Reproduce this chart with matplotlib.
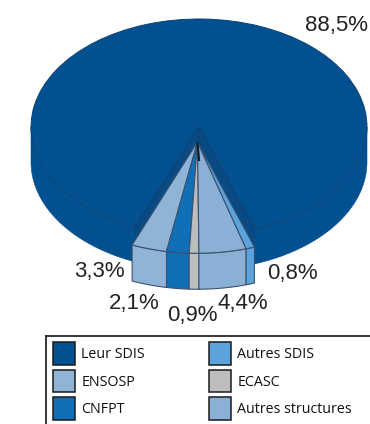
import numpy as np
import matplotlib
matplotlib.use("Agg")
import matplotlib.pyplot as plt
from matplotlib.lines import Line2D
from matplotlib.patches import Patch, Polygon

main_label = "Leur SDIS"
main_value = 88.5
main_color = "#02508f"
slice_labels = ["ENSOSP", "CNFPT", "ECASC", "Autres structures", "Autres SDIS"]
slice_values = [3.3, 2.1, 0.9, 4.4, 0.8]
slice_colors = ["#8fb4d8", "#0f6fb7", "#bdbdbd", "#8ab0d6", "#5ba3dc"]
value_texts = ["3,3%", "2,1%", "0,9%", "4,4%", "0,8%"]
legend_order = ["Leur SDIS", "ENSOSP", "CNFPT", "Autres SDIS", "ECASC", "Autres structures"]

W, H = 370, 424
RX, RY = 168, 108
fig = plt.figure(figsize=(W / 100, H / 100), dpi=100)
ax = fig.add_axes([0, 0, 1, 1])

def cx(px): return px / RX
def cy(py): return (H - py) / RY
D_MAIN = 35 / RY
D_SMALL = 36 / RY
C_MAIN = (cx(199), cy(127))
C_SMALL = (cx(197.5), cy(142))
R_SMALL = 1.03
START = 247.8
EDGE = "#3b5270"
DARK = "#0b4275"

def arc(center, a0, a1, r=1.0, n=80):
    t = np.radians(np.linspace(a0, a1, n))
    return center[0] + r * np.cos(t), center[1] + r * np.sin(t)

def wall(center, a0, a1, color, z, d, r=1.0, ec=EDGE, lw=0.8):
    x, y = arc(center, a0, a1, r)
    pts = np.r_[np.c_[x, y], np.c_[x[::-1], y[::-1] - d]]
    ax.add_patch(Polygon(pts, closed=True, fc=color, ec=ec, lw=lw, zorder=z))

small_total = sum(slice_values)
main_start = START + small_total * 3.6

# main slice: outer wall, top, inner cut walls
wall(C_MAIN, 180, START, main_color, 1, D_MAIN, ec=main_color, lw=0.4)
wall(C_MAIN, main_start, 360, main_color, 1, D_MAIN, ec=main_color, lw=0.4)
main_wedges, _ = ax.pie([main_value, 100 - main_value], colors=[main_color, "none"], center=C_MAIN, radius=1,
                        startangle=main_start, counterclock=True,
                        wedgeprops=dict(linewidth=0.7, edgecolor=DARK), frame=True)
main_wedges[0].set_zorder(1.5)
main_wedges[1].set_visible(False)
for a in (START, main_start):
    x, y = arc(C_MAIN, a, a, n=2)
    pts = [(C_MAIN[0], C_MAIN[1]), (x[0], y[0]), (x[0], y[0] - D_MAIN), (C_MAIN[0], C_MAIN[1] - D_MAIN)]
    ax.add_patch(Polygon(pts, closed=True, fc="#0a4a82", ec=DARK, lw=0.7, zorder=2))

# exploded group: front walls then tops
a = START
for v, c in zip(slice_values, slice_colors):
    wall(C_SMALL, a, a + v * 3.6, c, 3, D_SMALL, r=R_SMALL)
    a += v * 3.6
wedges, _ = ax.pie(slice_values + [100 - small_total], colors=slice_colors + ["none"],
                   center=C_SMALL, radius=R_SMALL, startangle=START, counterclock=True,
                   wedgeprops=dict(linewidth=0.8, edgecolor=EDGE), frame=True)
wedges[-1].set_visible(False)
for w in wedges:
    w.set_zorder(4)
ax.plot([cx(197.5), cx(199)], [cy(143), cy(160)], color="#10202f", lw=1.6, zorder=5)

ax.set_aspect("auto")
ax.set_xlim(0, W / RX)
ax.set_ylim(0, H / RY)
ax.axis("off")

# value labels
font = "Liberation Sans"
ax.text(cx(336), cy(25), f"{main_value:.1f}%".replace(".", ","), ha="center", va="center",
        fontsize=16, family=font, color="#222222", zorder=6)
label_pos = [(99, 271), (134, 304), (192, 315), (243, 303), (292, 274)]
for s, (px, py) in zip(value_texts, label_pos):
    ax.text(cx(px), cy(py), s, ha="center", va="center", fontsize=16, family=font,
            color="#222222", zorder=6)

# legend: only a top and a left rule frame it in the reference
color_of = dict(zip(slice_labels, slice_colors), **{main_label: main_color})
handles = [Patch(fc=color_of[n], ec="#1a1a1a", lw=1.1, label=n) for n in legend_order]
leg = fig.legend(handles=handles, ncols=2, loc="upper left",
                 bbox_to_anchor=(53 / W, 1 - 342 / H), bbox_transform=fig.transFigure,
                 frameon=False,
                 prop=dict(family="Open Sans", size=10.3),
                 handlelength=1.55, handleheight=2.05, handletextpad=0.42,
                 columnspacing=4.5, labelspacing=0.36, borderpad=0, borderaxespad=0)
for t in leg.get_texts():
    t.set_color("#111111")
fx, fy = 46 / W, 1 - 336 / H
fig.add_artist(Line2D([fx, 1], [fy, fy], color="black", lw=1.1, transform=fig.transFigure))
fig.add_artist(Line2D([fx, fx], [fy, 0], color="black", lw=1.1, transform=fig.transFigure))

fig.savefig("out.png", dpi=100)
